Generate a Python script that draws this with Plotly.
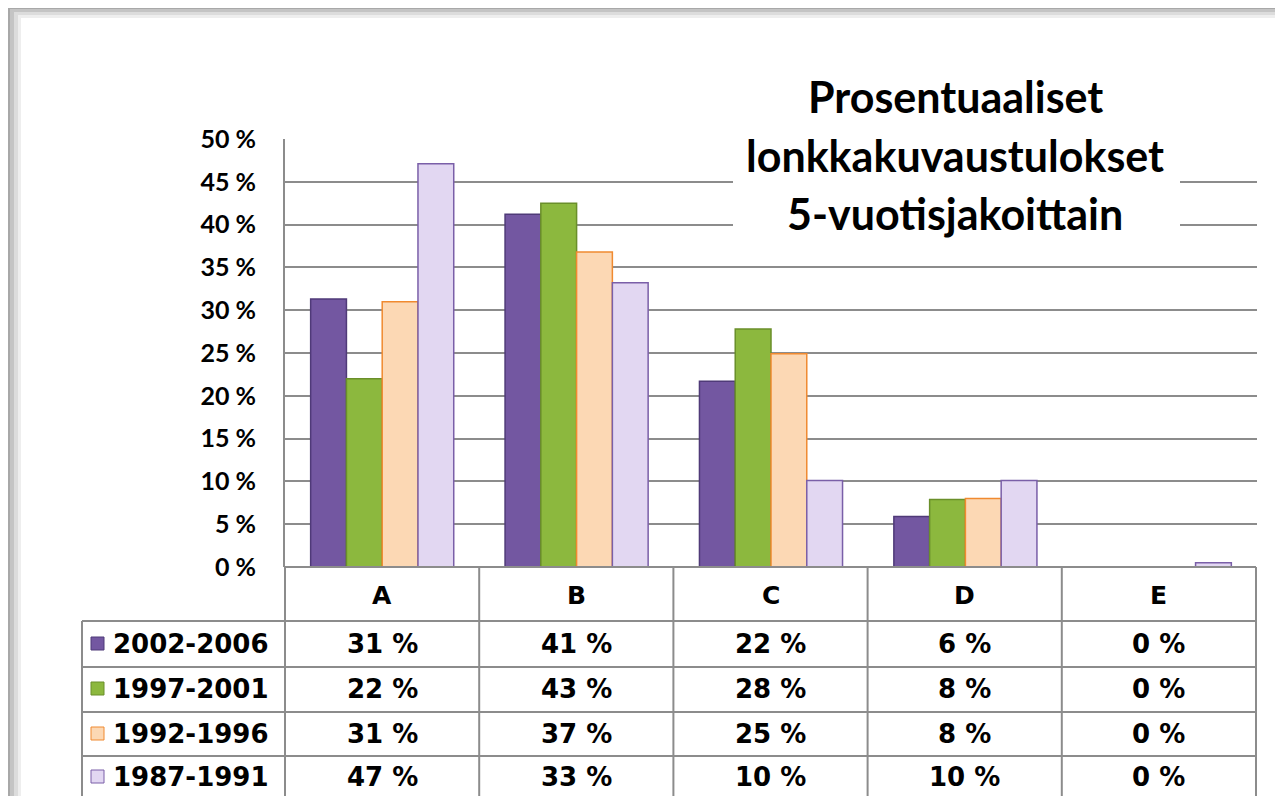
import plotly.graph_objects as go

categories = ["A", "B", "C", "D", "E"]
series_names = ["2002-2006", "1997-2001", "1992-1996", "1987-1991"]
v_2002_2006 = [31.3, 41.2, 21.7, 5.9, 0.0]
v_1997_2001 = [22.0, 42.5, 27.8, 7.9, 0.0]
v_1992_1996 = [31.0, 36.8, 24.9, 8.0, 0.0]
v_1987_1991 = [47.1, 33.2, 10.1, 10.1, 0.5]
table_2002_2006 = ["31 %", "41 %", "22 %", "6 %", "0 %"]
table_1997_2001 = ["22 %", "43 %", "28 %", "8 %", "0 %"]
table_1992_1996 = ["31 %", "37 %", "25 %", "8 %", "0 %"]
table_1987_1991 = ["47 %", "33 %", "10 %", "10 %", "0 %"]
title_lines = ["Prosentuaaliset", "lonkkakuvaustulokset", "5-vuotisjakoittain"]

values = [v_2002_2006, v_1997_2001, v_1992_1996, v_1987_1991]
tables = [table_2002_2006, table_1997_2001, table_1992_1996, table_1987_1991]
fills = ["#7357a1", "#8cb83e", "#fcd8b4", "#e2d7f2"]
borders = ["#4f3a78", "#6a8f2a", "#f08a30", "#7a5fa8"]

WIN_W, WIN_H = 1283, 796
OFF = 8  # page body margin
W, H = WIN_W - OFF, WIN_H - OFF
L, R, T, B = 285, 1257, 139, 567  # plot area in window pixels


def px(x):
    return (x - L) / (R - L)


def py(y):
    return (B - y) / (B - T)


fig = go.Figure()
for name, vals, f, b in zip(series_names, values, fills, borders):
    fig.add_trace(go.Bar(x=categories, y=vals, name=name,
                         marker=dict(color=f, line=dict(color=b, width=1.5))))

shapes = []
ann = []
# frame
for x0, y0, col in [(2, 2, "#8a8a8a"), (6, 6, "#a8a8a8"), (10, 9, "#c4c4c4"), (14, 12, "#dcdcdc"),
                    (18, 15, "#eeeeee"), (21, 18, "white")]:
    shapes.append(dict(type="rect", xref="paper", yref="paper", x0=px(x0), x1=px(WIN_W + 20),
                       y0=py(WIN_H + 20), y1=py(y0), line=dict(width=0), fillcolor=col, layer="below"))
# title box
shapes.append(dict(type="rect", xref="paper", yref="paper", x0=px(733), x1=px(1180), y0=py(240), y1=py(60),
                   line=dict(width=0), fillcolor="white", layer="above"))
for i, t in enumerate(title_lines):
    ann.append(dict(xref="paper", yref="paper", x=px(955), y=py(97 + i * 58), text="<b>%s</b>" % t,
                    showarrow=False, xanchor="center", yanchor="middle",
                    font=dict(family="Lato", size=43, color="black")))

# table
gc = "#8c8c8c"
col_x = [L + i * (R - 1 - L) / 5 for i in range(6)]
row_y = [567, 621, 667, 712, 756, 820]
for x in col_x:
    shapes.append(dict(type="line", xref="paper", yref="paper", x0=px(x), x1=px(x), y0=py(567), y1=py(820),
                       line=dict(color=gc, width=2)))
shapes.append(dict(type="line", xref="paper", yref="paper", x0=px(82), x1=px(82), y0=py(621), y1=py(820),
                   line=dict(color=gc, width=2)))
shapes.append(dict(type="line", xref="paper", yref="paper", x0=px(L), x1=px(col_x[-1]), y0=py(567), y1=py(567),
                   line=dict(color=gc, width=2)))
for y in row_y[1:5]:
    shapes.append(dict(type="line", xref="paper", yref="paper", x0=px(82), x1=px(col_x[-1]), y0=py(y), y1=py(y),
                       line=dict(color=gc, width=2)))
for j, c in enumerate(categories):
    cx = (col_x[j] + col_x[j + 1]) / 2
    ann.append(dict(xref="paper", yref="paper", x=px(cx), y=py(595), text="<b>%s</b>" % c, showarrow=False,
                    xanchor="center", yanchor="middle", font=dict(family="DejaVu Sans", size=25, color="black")))
row_centers = [644, 689, 734, 777]
for i, (name, tab) in enumerate(zip(series_names, tables)):
    cy = row_centers[i]
    shapes.append(dict(type="rect", xref="paper", yref="paper", x0=px(91), x1=px(104), y0=py(cy + 6), y1=py(cy - 7),
                       fillcolor=fills[i], line=dict(color=borders[i], width=1)))
    ann.append(dict(xref="paper", yref="paper", x=px(111), y=py(cy), text="<b>%s</b>" % name, showarrow=False,
                    xanchor="left", yanchor="middle", font=dict(family="DejaVu Sans", size=26, color="black")))
    for j, t in enumerate(tab):
        cx = (col_x[j] + col_x[j + 1]) / 2
        ann.append(dict(xref="paper", yref="paper", x=px(cx), y=py(cy), text="<b>%s</b>" % t, showarrow=False,
                        xanchor="center", yanchor="middle", font=dict(family="DejaVu Sans", size=26, color="black")))

fig.update_layout(
    width=W, height=H,
    margin=dict(l=L - OFF, r=WIN_W - R, t=T - OFF, b=WIN_H - B, pad=0),
    paper_bgcolor="white", plot_bgcolor="white",
    barmode="group", bargap=0.264, bargroupgap=0,
    showlegend=False,
    shapes=shapes, annotations=ann,
    xaxis=dict(showticklabels=False, showgrid=False, zeroline=False, showline=False, ticks=""),
    yaxis=dict(range=[0, 50], dtick=5, tick0=0, tickprefix="<b>", showtickprefix="all", ticksuffix=" %</b>",
               showgrid=True, gridcolor=gc, gridwidth=1.5,
               showline=True, linecolor=gc, linewidth=2, zeroline=False, ticks="",
               tickfont=dict(family="Lato", size=25, color="black"), ticklabelstandoff=22),
)
fig.write_html("out.html")
